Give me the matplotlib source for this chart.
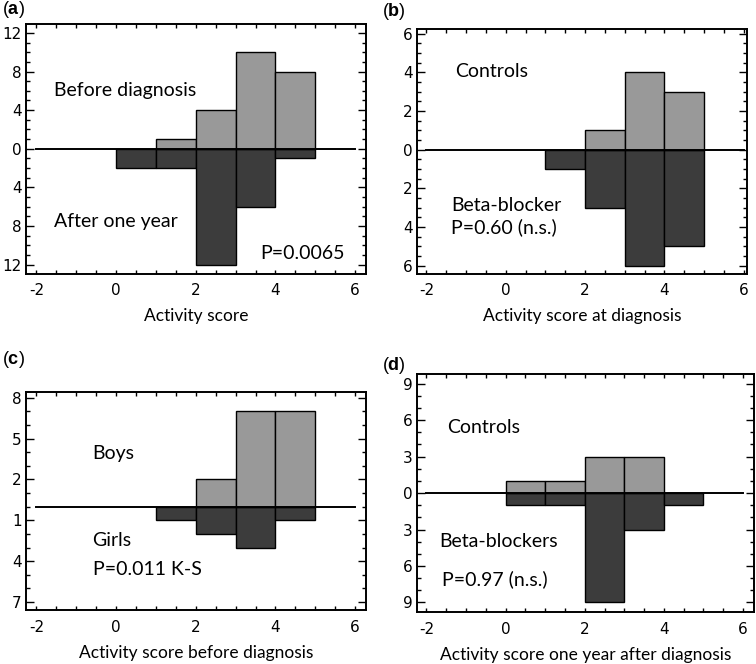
import numpy as np
import matplotlib
matplotlib.use("Agg")
import matplotlib.pyplot as plt
from matplotlib.ticker import MultipleLocator, FixedLocator, FuncFormatter

tick_font = ['Liberation Sans Narrow', 'DejaVu Sans']
text_font = ['Lato', 'DejaVu Sans']
plt.rcParams['font.family'] = tick_font
plt.rcParams['axes.unicode_minus'] = False
plt.rcParams['mathtext.fontset'] = 'custom'
plt.rcParams['mathtext.rm'] = 'Liberation Sans'
plt.rcParams['mathtext.bf'] = 'Liberation Sans:bold'

# bin left edges (activity score)
bins = [0, 1, 2, 3, 4]

# (a) before diagnosis vs after one year
a_upper = [0, 1, 4, 10, 8]
a_lower = [2, 2, 12, 6, 1]
# (b) controls vs beta-blocker at diagnosis
b_upper = [0, 0, 1, 4, 3]
b_lower = [0, 1, 3, 6, 5]
# (c) boys vs girls before diagnosis
c_upper = [0, 0, 2, 7, 7]
c_lower = [0, 1, 2, 3, 1]
# (d) controls vs beta-blockers one year after diagnosis
d_upper = [1, 1, 3, 3, 0]
d_lower = [1, 1, 9, 3, 1]

light = '#999999'
dark = '#3c3c3c'

fig = plt.figure(figsize=(7.56, 6.64), dpi=100)


def panel(rect, upper, lower, xlim, ylim, ymajor, yminor, texts, xlabel, letter, letter_xy):
    ax = fig.add_axes(rect)
    # skip empty bins so no stray edge lines are drawn
    lo = [(b, -v) for b, v in zip(bins, lower) if v != 0]
    up = [(b, v) for b, v in zip(bins, upper) if v != 0]
    ax.bar([p[0] for p in lo], [p[1] for p in lo], width=1, align='edge',
           color=dark, edgecolor='black', linewidth=1.0, zorder=2)
    ax.bar([p[0] for p in up], [p[1] for p in up], width=1, align='edge',
           color=light, edgecolor='black', linewidth=1.0, zorder=2)
    ax.plot([-2, 6], [0, 0], color='black', lw=1.4, zorder=3)
    ax.set_xlim(*xlim)
    ax.set_ylim(*ylim)
    ax.xaxis.set_major_locator(FixedLocator([-2, 0, 2, 4, 6]))
    ax.xaxis.set_minor_locator(MultipleLocator(0.5))
    ax.yaxis.set_major_locator(ymajor)
    ax.yaxis.set_minor_locator(MultipleLocator(yminor))
    ax.yaxis.set_major_formatter(FuncFormatter(lambda v, p: f"{abs(v):g}"))
    ax.tick_params(which='both', direction='in', top=True, right=True, width=1.0,
                   labelsize=11)
    ax.tick_params(axis='x', which='both', length=3, pad=7)
    ax.tick_params(axis='y', which='major', length=6, pad=3.5)
    ax.tick_params(axis='y', which='minor', length=3)
    for s in ax.spines.values():
        s.set_linewidth(1.4)
    for x, y, s in texts:
        ax.text(x, y, s, ha='left', va='center', fontsize=14, family=text_font)
    ax.set_xlabel(xlabel, fontsize=12.5, family=text_font, labelpad=7)
    fig.text(letter_xy[0], letter_xy[1], r"($\mathbf{%s}$)" % letter,
             fontsize=13, family='Liberation Sans', va='center', ha='left')
    return ax


panel([0.035, 0.588, 0.449, 0.376], a_upper, a_lower, (-2.25, 6.27), (-12.93, 12.93),
      MultipleLocator(4), 1,
      [(-1.55, 6.0, 'Before diagnosis'), (-1.55, -7.5, 'After one year'),
       (3.62, -10.9, 'P=0.0065')],
      'Activity score', 'a', (0.002, 0.985))

panel([0.552, 0.588, 0.436, 0.369], b_upper, b_lower, (-2.23, 6.08), (-6.4, 6.26),
      MultipleLocator(2), 0.5,
      [(-1.27, 4.04, 'Controls'), (-1.37, -2.9, 'Beta-blocker'),
       (-1.37, -4.0, 'P=0.60 (n.s.)')],
      'Activity score at diagnosis', 'b', (0.505, 0.982))

panel([0.035, 0.081, 0.449, 0.329], c_upper, c_lower, (-2.25, 6.27), (-7.6, 8.43),
      FixedLocator([8, 5, 2, -1, -4, -7]), 1,
      [(-0.61, 3.9, 'Boys'), (-0.59, -2.5, 'Girls'),
       (-0.59, -4.6, 'P=0.011 K-S')],
      'Activity score before diagnosis', 'c', (0.002, 0.458))

panel([0.552, 0.078, 0.445, 0.359], d_upper, d_lower, (-2.23, 6.27), (-9.8, 9.8),
      MultipleLocator(3), 1,
      [(-1.47, 5.4, 'Controls'), (-1.67, -4.0, 'Beta-blockers'),
       (-1.6, -7.1, 'P=0.97 (n.s.)')],
      'Activity score one year after diagnosis', 'd', (0.505, 0.450))

fig.savefig('out.png', dpi=100)
